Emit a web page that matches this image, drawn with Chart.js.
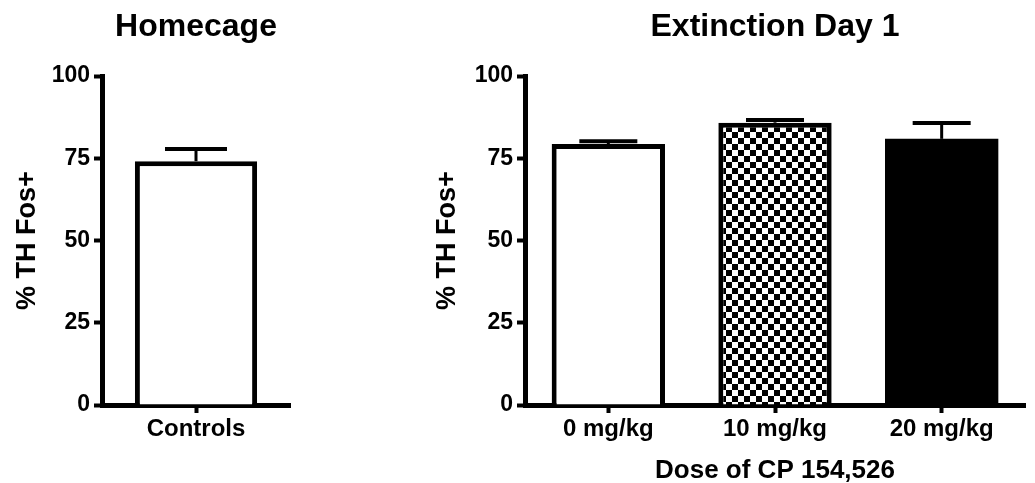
<!DOCTYPE html>
<html>
<head>
<meta charset="utf-8">
<script src="https://cdn.jsdelivr.net/npm/chart.js@4.4.0/dist/chart.umd.min.js"></script>
<style>
  body { margin: 0; background: #fff; width: 1035px; height: 483px; overflow: hidden; position: relative; }
  .panel { position: absolute; top: 0; height: 486px; }
  #homeBox { left: 0; width: 300px; }
  #doseBox { left: 420px; width: 615px; }
</style>
</head>
<body>
<div class="panel" id="homeBox"><canvas id="homeChart"></canvas></div>
<div class="panel" id="doseBox"><canvas id="doseChart"></canvas></div>
<script>
// values
const homeLabels = ['Controls'];
const homeMeans = [74.1];
const homeSem = [3.7];

const doseLabels = ['0 mg/kg', '10 mg/kg', '20 mg/kg'];
const doseMeans = [79.3, 85.8, 80.9];
const doseSem = [0.9, 0.8, 4.8];

const yTicks = [0, 25, 50, 75, 100];

const FONT = "'Liberation Sans', Arial, sans-serif";

// checkerboard fill for the 10 mg/kg bar
function checker(size) {
    const c = document.createElement('canvas');
    c.width = size * 2;
    c.height = size * 2;
    const g = c.getContext('2d');
    g.fillStyle = '#fff';
    g.fillRect(0, 0, size * 2, size * 2);
    g.fillStyle = '#000';
    g.fillRect(0, 0, size, size);
    g.fillRect(size, size, size, size);
    return g.createPattern(c, 'repeat');
}

// upward SEM bars
const errorBars = {
    id: 'errorBars',
    afterDatasetsDraw(chart, args, opts) {
        const ctx = chart.ctx;
        const yScale = chart.scales.y;
        const ds = chart.data.datasets[0];
        const meta = chart.getDatasetMeta(0);
        ctx.save();
        ctx.strokeStyle = '#000';
        meta.data.forEach((bar, i) => {
            const top = yScale.getPixelForValue(ds.data[i] + opts.sem[i]);
            ctx.lineWidth = 3;
            ctx.beginPath();
            ctx.moveTo(bar.x, bar.y);
            ctx.lineTo(bar.x, top);
            ctx.stroke();
            ctx.lineWidth = 4;
            ctx.beginPath();
            ctx.moveTo(bar.x - opts.cap, top);
            ctx.lineTo(bar.x + opts.cap, top);
            ctx.stroke();
        });
        ctx.restore();
    }
};

// panel title centred over the plot area
const panelTitle = {
    id: 'panelTitle',
    afterDraw(chart, args, opts) {
        const a = chart.chartArea;
        const ctx = chart.ctx;
        ctx.save();
        ctx.font = 'bold 32px ' + FONT;
        ctx.fillStyle = '#000';
        ctx.textAlign = 'center';
        ctx.textBaseline = 'middle';
        ctx.fillText(opts.text, (a.left + a.right) / 2, 27);
        ctx.restore();
    }
};

function makeOptions(title, sem, cap, yWidth, xTitle, barPct) {
    return {
        responsive: true,
        maintainAspectRatio: false,
        animation: false,
        layout: { padding: { left: 11, right: 10, top: 76, bottom: 0 } },
        datasets: { bar: { categoryPercentage: 1, barPercentage: barPct } },
        plugins: {
            legend: { display: false },
            tooltip: { enabled: false },
            panelTitle: { text: title },
            errorBars: { sem: sem, cap: cap }
        },
        scales: {
            x: {
                offset: true,
                grid: { offset: false, drawOnChartArea: false, drawTicks: true, tickLength: 8, tickWidth: 4, tickColor: '#000' },
                border: { display: true, width: 5, color: '#000' },
                ticks: { color: '#000', font: { family: FONT, size: 24, weight: 'bold' }, padding: 2 },
                title: {
                    display: !!xTitle, text: xTitle || '', color: '#000',
                    font: { family: FONT, size: 26, weight: 'bold' }, padding: 0
                },
                afterFit(scale) { scale.height = 81; }
            },
            y: {
                min: 0,
                max: 100,
                afterBuildTicks(scale) { scale.ticks = yTicks.map(v => ({ value: v })); },
                grid: { drawOnChartArea: false, drawTicks: true, tickLength: 8, tickWidth: 4, tickColor: '#000' },
                border: { display: true, width: 5, color: '#000' },
                ticks: { color: '#000', font: { family: FONT, size: 23, weight: 'bold' }, padding: 4 },
                title: {
                    display: true, text: '% TH Fos+', color: '#000',
                    font: { family: FONT, size: 27, weight: 'bold' }, padding: 0
                },
                afterFit(scale) { scale.width = yWidth; }
            }
        }
    };
}

new Chart(document.getElementById('homeChart').getContext('2d'), {
    type: 'bar',
    data: {
        labels: homeLabels,
        datasets: [{
            data: homeMeans,
            backgroundColor: '#fff',
            borderColor: '#000',
            borderWidth: 5
        }]
    },
    options: makeOptions('Homecage', homeSem, 31, 91, null, 0.65),
    plugins: [errorBars, panelTitle]
});

new Chart(document.getElementById('doseChart').getContext('2d'), {
    type: 'bar',
    data: {
        labels: doseLabels,
        datasets: [{
            data: doseMeans,
            backgroundColor: ['#fff', checker(6), '#000'],
            borderColor: '#000',
            borderWidth: [5, 5, 0]
        }]
    },
    options: makeOptions('Extinction Day 1', doseSem, 29, 94, 'Dose of CP 154,526', 0.68),
    plugins: [errorBars, panelTitle]
});
</script>
</body>
</html>
